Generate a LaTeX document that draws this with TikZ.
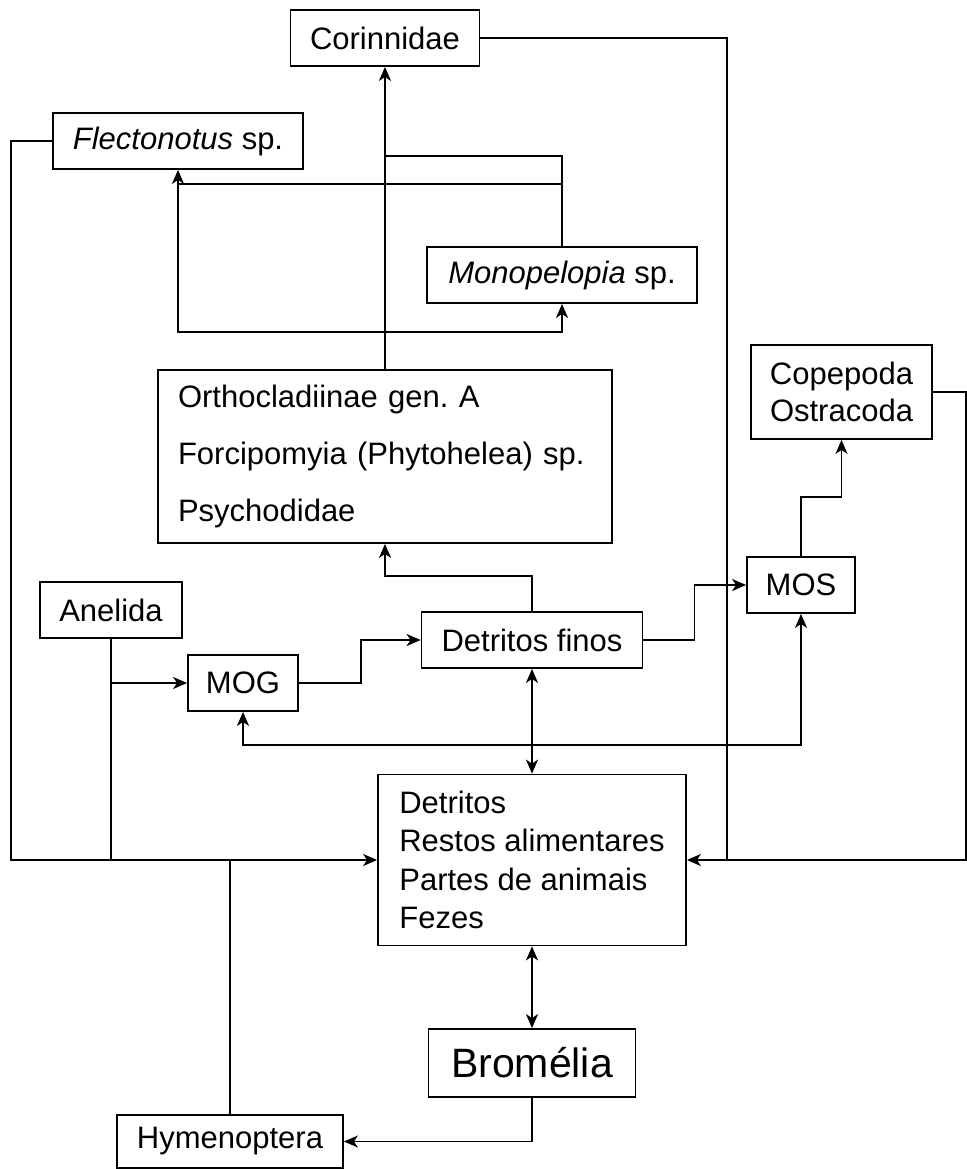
\documentclass[tikz,border=0pt]{standalone}
\usepackage{fontspec}
\setmainfont{Liberation Sans}
\frenchspacing
\usetikzlibrary{arrows.meta}
\begin{document}
\begin{tikzpicture}[x=1pt,y=-1pt,line width=1.8pt,
    box/.style={draw,inner sep=0pt,minimum height=56pt,font=\fontsize{31}{37}\selectfont},
    tip/.tip={Stealth[length=14pt,width=12pt,inset=4pt]},
    arr/.style={-tip},
    dbl/.style={tip-tip}]
  \useasboundingbox (0,0) rectangle (966,1169);
  \draw
    (385,38) node[box,minimum width=189pt] (cor){Corinnidae}
    (178,141) node[box,minimum width=250pt] (flec){\textit{Flectonotus} sp.}
    (562,275) node[box,minimum width=270pt] (mono){\textit{Monopelopia} sp.}
    (385,456.5) node[box,minimum height=173pt,inner xsep=20pt,text width=414pt,align=left,
      font=\fontsize{31}{57}\selectfont] (orth){Orthocladiinae gen. A\\Forcipomyia (Phytohelea) sp.\\Psychodidae}
    (841.5,392) node[box,minimum width=181pt,minimum height=94pt,align=center] (cop){Copepoda\\Ostracoda}
    (111,610) node[box,minimum width=142pt] (ane){Anelida}
    (243,683) node[box,minimum width=110pt] (mog){MOG}
    (532,640) node[box,minimum width=221pt] (fin){Detritos finos}
    (801,585) node[box,minimum width=108pt] (mos){MOS}
    (532,860) node[box,minimum width=308pt,minimum height=171pt,align=left,
      font=\fontsize{31}{38.3}\selectfont] (det){Detritos\\Restos alimentares\\Partes de animais\\Fezes}
    (532,1063) node[box,minimum width=207pt,minimum height=68pt,font=\fontsize{41}{49}\selectfont] (bro){Bromélia}
    (230,1141.5) node[box,minimum width=226pt,minimum height=53pt] (hym){Hymenoptera};
  \begin{scope}[arr]
    \draw (orth.north) -- (orth.north |- cor.south);
    \draw (mono.north |- 0,184) -| (flec.south);
    \draw (flec.south |- 0,184) -- (flec.south |- 0,332) -| (mono.south);
    \draw (fin.north) -- ++(0,-35) -| (orth.south);
    \draw (mog.east) -- ++(62,0) |- (fin.west);
    \draw (fin.east) -- ++(51,0) |- (mos.west);
    \draw (mos.north) -- ++(0,-59) -| (cop.south);
    \draw (ane.south |- mog.west) -- (mog.west);
    \draw (flec.west) -- ++(-41,0) |- (det.west);
    \draw (cop.east) -- ++(33,0) |- (det.east);
    \draw (bro.south) |- (hym.east);
  \end{scope}
  \begin{scope}[dbl]
    \draw (mog.south) -- ++(0,33) -| (mos.south);
    \draw (fin.south) -- (det.north);
    \draw (det.south) -- (bro.north);
  \end{scope}
  \draw (mono.north) |- (orth.north |- 0,156);
  \draw (cor.east) -| (727,860);
  \draw (ane.south) -- (ane.south |- det.west);
  \draw (hym.north) -- (hym.north |- det.west);
\end{tikzpicture}
\end{document}
